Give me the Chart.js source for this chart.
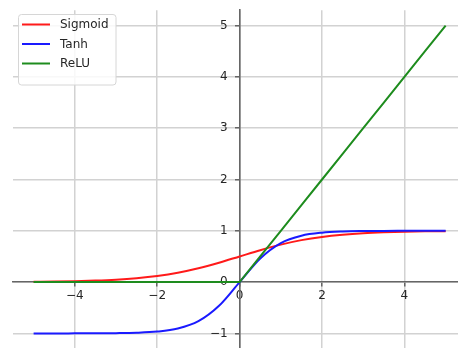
<!DOCTYPE html>
<html>
<head>
<meta charset="utf-8">
<script src="https://cdn.jsdelivr.net/npm/chart.js@4/dist/chart.umd.min.js"></script>
<style>
html,body{margin:0;padding:0;background:#fff;overflow:hidden;}
#wrap{width:458px;height:348px;overflow:hidden;}
</style>
</head>
<body>
<div id="wrap"><canvas id="c" width="458" height="359"></canvas></div>
<script>
// x positions (read along the horizontal axis)
const xValues = [-5, -4.5, -4, -3.5, -3, -2.5, -2, -1.5, -1, -0.5, 0, 0.5, 1, 1.5, 2, 2.5, 3, 3.5, 4, 4.5, 5];
// Sigmoid curve values
const sigmoidValues = [0.007, 0.011, 0.018, 0.029, 0.047, 0.076, 0.119, 0.182, 0.269, 0.378, 0.5, 0.622, 0.731, 0.818, 0.881, 0.924, 0.953, 0.971, 0.982, 0.989, 0.993];
// Tanh curve values
const tanhValues = [-1.0, -1.0, -0.999, -0.998, -0.995, -0.987, -0.964, -0.905, -0.762, -0.462, 0, 0.462, 0.762, 0.905, 0.964, 0.987, 0.995, 0.998, 0.999, 1.0, 1.0];
// ReLU values
const reluValues = [0, 0, 0, 0, 0, 0, 0, 0, 0, 0, 0, 0.5, 1, 1.5, 2, 2.5, 3, 3.5, 4, 4.5, 5];
const seriesLabels = ['Sigmoid', 'Tanh', 'ReLU'];
const xTicks = [-4, -2, 0, 2, 4];
const yTicks = [-1, 0, 1, 2, 3, 4, 5];

const pts = (ys) => xValues.map((x, i) => ({x: x, y: ys[i]}));
const minus = (v) => (v < 0 ? '\u2212' + Math.abs(v) : String(v));
const FONT = "'DejaVu Sans', sans-serif";
const TEXT = '#262626';
const SPINE = '#666666';
const GRID = '#d2d2d2';

const boxedLegend = {
  id: 'boxedLegend',
  afterDatasetsDraw(chart) {
    const ctx = chart.ctx;
    const ds = chart.data.datasets;
    const x0 = 18.5, y0 = 14.5, w = 97.5, h = 70.5, r = 3;
    ctx.save();
    ctx.beginPath();
    ctx.moveTo(x0 + r, y0);
    ctx.lineTo(x0 + w - r, y0);
    ctx.arcTo(x0 + w, y0, x0 + w, y0 + r, r);
    ctx.lineTo(x0 + w, y0 + h - r);
    ctx.arcTo(x0 + w, y0 + h, x0 + w - r, y0 + h, r);
    ctx.lineTo(x0 + r, y0 + h);
    ctx.arcTo(x0, y0 + h, x0, y0 + h - r, r);
    ctx.lineTo(x0, y0 + r);
    ctx.arcTo(x0, y0, x0 + r, y0, r);
    ctx.closePath();
    ctx.fillStyle = 'rgba(255,255,255,0.85)';
    ctx.fill();
    ctx.strokeStyle = '#d6d6d6';
    ctx.lineWidth = 1;
    ctx.stroke();
    const rows = [24.5, 44, 63.5];
    ds.forEach((d, i) => {
      ctx.beginPath();
      ctx.moveTo(22, rows[i]);
      ctx.lineTo(50, rows[i]);
      ctx.strokeStyle = d.borderColor;
      ctx.lineWidth = 2;
      ctx.stroke();
      ctx.fillStyle = TEXT;
      ctx.font = '12px ' + FONT;
      ctx.textBaseline = 'middle';
      ctx.textAlign = 'left';
      ctx.fillText(d.label, 60, rows[i] + 0.5);
    });
    ctx.restore();
  }
};

// y tick labels sit left of the centred spine, past the tick marks
const shiftYLabels = {
  id: 'shiftYLabels',
  beforeDraw(chart) {
    const s = chart.scales.y;
    const items = s.getLabelItems(chart.chartArea);
    if (items && !items._shifted) {
      items.forEach((it) => { it.options.translation[0] -= 12; });
      items._shifted = true;
    }
  }
};

new Chart(document.getElementById('c'), {
  type: 'line',
  data: {
    datasets: [
      {label: seriesLabels[0], data: pts(sigmoidValues), borderColor: '#ff1a1a', order: 2, cubicInterpolationMode: 'monotone'},
      {label: seriesLabels[1], data: pts(tanhValues), borderColor: '#1a1aff', order: 1, cubicInterpolationMode: 'monotone'},
      {label: seriesLabels[2], data: pts(reluValues), borderColor: '#1e8c1e', order: 0, tension: 0}
    ]
  },
  options: {
    responsive: false,
    animation: false,
    devicePixelRatio: 1,
    layout: {padding: {left: 13, top: 7.5, right: 0, bottom: 0}},
    elements: {
      point: {radius: 0},
      line: {borderWidth: 2, fill: false}
    },
    plugins: {legend: {display: false}, tooltip: {enabled: false}},
    scales: {
      x: {
        type: 'linear',
        position: {y: 0},
        min: -5.5, max: 5.3,
        afterBuildTicks: (s) => { s.ticks = xTicks.map(v => ({value: v})); },
        grid: {color: GRID, lineWidth: 1.5, drawTicks: true, tickLength: 4, tickColor: SPINE, tickWidth: 1.5},
        border: {display: true, color: SPINE, width: 1.6},
        ticks: {callback: minus, color: TEXT, font: {family: FONT, size: 12}, padding: 3, maxRotation: 0, autoSkip: false}
      },
      y: {
        type: 'linear',
        position: {x: 0},
        min: -1.3, max: 5.3,
        afterBuildTicks: (s) => { s.ticks = yTicks.map(v => ({value: v})); },
        grid: {color: GRID, lineWidth: 1.5, drawTicks: true, tickLength: 4, tickColor: SPINE, tickWidth: 1.5},
        border: {display: true, color: SPINE, width: 1.6},
        ticks: {callback: minus, color: TEXT, font: {family: FONT, size: 12}, padding: 3, autoSkip: false}
      }
    }
  },
  plugins: [boxedLegend, shiftYLabels]
});
</script>
</body>
</html>
